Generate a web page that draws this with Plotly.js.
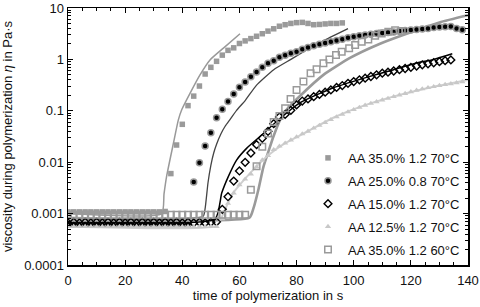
<!DOCTYPE html>
<html>
<head>
<meta charset="utf-8">
<script src="https://cdn.plot.ly/plotly-3.0.1.min.js"></script>
<style>html,body{margin:0;padding:0;background:#fff;}#chart{width:480px;height:307px;}</style>
</head>
<body>
<div id="chart"></div>
<script>
// ---- series names ----
const seriesNames = ["AA 35.0% 1.2 70°C", "AA 25.0% 0.8 70°C", "AA 15.0% 1.2 70°C", "AA 12.5% 1.2 70°C", "AA 35.0% 1.2 60°C"];

// ---- measured data (time in s, viscosity in Pa·s) ----
const s1Time = [0,2,4,6,8,10,12,14,16,18,20,22,24,26,28,30,32,34,36,38,40,42,44,46,48,50,52,54,56,58,60,62,64,66,68,70,72,74,76,78,80,82,84,86,88,90,92,94,96];
const s1Visc = [0.00108,0.00108,0.00108,0.00108,0.00108,0.00108,0.00108,0.00108,0.00108,0.00108,0.00108,0.00108,0.00108,0.00108,0.00108,0.00108,0.00108,0.0011,
  0.0060,0.0216,0.0546,0.126,0.193,0.303,0.520,0.701,0.918,1.21,1.50,1.68,2.04,2.29,2.54,2.82,3.16,3.55,3.94,4.42,4.73,5.01,5.19,5.25,5.01,4.73,4.79,4.90,5.01,5.01,5.13];

const s2Time = [0,2,4,6,8,10,12,14,16,18,20,22,24,26,28,30,32,34,36,38,40,42,44,46,48,50,52,54,56,58,60,62,64,66,68,70,72,74,76,78,80,82,84,86,88,90,92,94,96,98,100,102,104,106,108,110,112,114,116,118,120,122,124,126,128,130,132,134,136,138];
const s2Visc = [0.00063,0.00063,0.00063,0.00063,0.00063,0.00063,0.00063,0.00063,0.00063,0.00063,0.00063,0.00063,0.00063,0.00063,0.00063,0.00063,0.00063,0.00063,0.00063,0.00063,0.00063,0.00063,
  0.0041,0.0098,0.0207,0.0375,0.0735,0.107,0.151,0.212,0.286,0.363,
  0.461,0.569,0.701,0.839,0.944,1.10,1.20,1.32,1.41,1.58,
  1.70,1.84,1.97,2.09,2.21,2.34,2.48,2.63,2.75,2.88,
  2.99,3.09,3.20,3.27,3.35,3.43,3.55,3.63,3.72,3.80,
  3.89,3.98,4.17,4.27,4.32,4.37,3.98,3.76];

const s3Time = [0,2,4,6,8,10,12,14,16,18,20,22,24,26,28,30,32,34,36,38,40,42,44,46,48,50,52,54,56,58,60,62,64,66,68,70,72,74,76,78,80,82,84,86,88,90,92,94,96,98,100,102,104,106,108,110,112,114,116,118,120,122,124,126,128,130,132,134];
const s3Visc = [0.00066,0.00068,0.00066,0.00068,0.00066,0.00068,0.00066,0.00068,0.00066,0.00068,0.00066,0.00068,0.00066,0.00068,0.00066,0.00068,0.00066,0.00068,0.00066,0.00068,0.00066,0.00068,0.00066,0.00068,0.00066,0.00068,0.00069,
  0.00121,0.00213,0.0043,0.00675,0.00995,0.0151,0.0219,0.0292,0.0398,0.0562,
  0.0759,0.085,0.102,0.13,0.155,0.17,0.188,0.208,0.23,0.255,
  0.285,0.31,0.342,0.37,0.40,0.432,0.465,0.50,0.54,0.565,
  0.595,0.63,0.665,0.70,0.741,0.785,0.822,0.861,0.902,0.944,0.977];

const s4Time = [0,2,4,6,8,10,12,14,16,18,20,22,24,26,28,30,32,34,36,38,40,42,44,46,48,50,52,54,56,58,60,62,64,66,68,70,72,74,76,78,80,82,84,86,88,90,92,94,96,98,100,102,104,106,108,110,112,114,116,118,120,122,124,126,128,130,132,134,136,138];
const s4Visc = [0.00056,0.00056,0.00056,0.00056,0.00056,0.00056,0.00056,0.00056,0.00056,0.00056,0.00056,0.00056,0.00056,0.00056,0.00056,0.00056,0.00056,0.00056,0.00056,0.00056,0.00056,0.00056,0.00056,0.00056,0.00056,0.00056,0.00056,
  0.00079,0.00158,0.00251,0.00363,0.00468,0.00589,0.00813,0.011,0.0135,0.0175,
  0.0205,0.0235,0.027,0.031,0.0355,0.040,0.046,0.052,0.059,0.067,
  0.076,0.085,0.095,0.105,0.116,0.128,0.139,0.150,0.162,0.174,
  0.188,0.202,0.216,0.234,0.251,0.266,0.282,0.295,0.309,0.324,
  0.335,0.351,0.367];

const s5Time = [0,2,4,6,8,10,12,14,16,18,20,22,24,26,28,30,32,34,36,38,40,42,44,46,48,50,52,54,56,58,60,62,
  64,66,68,70,72,74,76,77.9,80,82.4,84.9,87,89.4,91.5,93.8,95.8,98.4,100.5,102.8,105.1,107.5,109.8,112.1,114.5,116.8];
const s5Visc = [0.00095,0.00095,0.00095,0.00095,0.00095,0.00095,0.00095,0.00095,0.00095,0.00095,0.00095,0.00095,0.00095,0.00095,0.00095,0.00095,0.00095,0.00095,0.00095,0.00095,0.00095,0.00095,0.00095,0.00095,0.00095,0.00095,0.00095,0.00095,0.00095,0.00095,0.00095,0.00095,
  0.0029,0.0083,0.020,0.0363,0.0603,0.0794,0.112,0.17,0.254,0.37,0.537,0.646,0.84,1.0,1.22,1.41,1.64,1.9,2.21,2.45,2.9,3.2,3.47,3.7,3.55];

// ---- model curves ----
const f1Time = [0,32.8,33.6,34.5,36.9,38.6,39.8,42.7,46.2,49.7,54.4,60.2];
const f1Visc = [0.001,0.001,0.0024,0.00525,0.0234,0.066,0.105,0.219,0.50,0.977,1.66,3.16];
const f2Time = [0,47.3,48,49,50,51,52,53.5,55,56.7,59,62,66,72,78,84,90,98];
const f2Visc = [0.0008,0.00089,0.00126,0.00398,0.0087,0.0151,0.0224,0.0355,0.0501,0.0676,0.102,0.158,0.316,0.631,1.0,1.58,2.4,3.98];
const f3Time = [0,51.5,53.8,56.1,59,62.5,67.2,74.2,81,92,104.5,114,122,128,134.5];
const f3Visc = [0.00071,0.00079,0.00251,0.00525,0.011,0.0186,0.0316,0.0708,0.141,0.269,0.447,0.631,0.851,1.0,1.29];
const f4Time = [0,52,54,56,58,62,66,70,76,84,93,104,116,128,140];
const f4Visc = [0.00056,0.00058,0.0009,0.0016,0.0026,0.0048,0.0083,0.0135,0.0234,0.040,0.0741,0.129,0.204,0.295,0.398];
const f5Time = [0,63.5,64.9,66.6,68.4,70.1,71.9,74.2,76.5,81,89.4,98.7,109,118.5,130,140];
const f5Visc = [0.00083,0.00083,0.00126,0.00288,0.00813,0.0158,0.0316,0.0661,0.105,0.19,0.50,1.07,2.0,3.16,5.25,7.24];

// ---- axis ticks ----
const yTickVals = [0.0001,0.001,0.01,0.1,1,10];
const yTickText = ["0.0001","0.001","0.01","0.1","1","10"];

const font = {family: "Liberation Sans, Arial, sans-serif", size: 13, color: "#111"};

function line(x, y, color, width) {
  return {x: x, y: y, type: "scatter", mode: "lines", line: {color: color, width: width, shape: "spline", smoothing: 0.5}, showlegend: false, hoverinfo: "skip"};
}
function pts(x, y, name, marker, g) {
  return {x: x, y: y, type: "scatter", mode: "markers", name: name, marker: marker, legendgroup: g};
}

const traces = [
  line(f5Time, f5Visc, "#9a9a9a", 2.6),
  line(f4Time, f4Visc, "#cfcfcf", 2),
  line(f1Time, f1Visc, "#999999", 1.5),
  line(f2Time, f2Visc, "#444444", 1.3),
  line(f3Time, f3Visc, "#000000", 1.5),
  pts(s1Time, s1Visc, seriesNames[0], {symbol: "square", size: 5.5, color: "#9a9a9a"}, "a"),
  pts(s2Time, s2Visc, seriesNames[1], {symbol: "circle", size: 6, color: "#000", line: {color: "#9a9a9a", width: 1.5}}, "b"),
  pts(s3Time, s3Visc, seriesNames[2], {symbol: "diamond-open", size: 6, color: "#000", line: {width: 1.4}}, "c"),
  pts(s4Time, s4Visc, seriesNames[3], {symbol: "triangle-up", size: 5.5, color: "#c8c8c8"}, "d"),
  pts(s5Time, s5Visc, seriesNames[4], {symbol: "square-open", size: 6.5, color: "#9a9a9a", line: {width: 1.5}}, "e")
];

const minorY = [];
for (let e = -4; e < 1; e++) { for (let k = 2; k <= 9; k++) { minorY.push(k * Math.pow(10, e)); } }

const layout = {
  width: 480, height: 307,
  margin: {l: 68, r: 12, t: 8, b: 42},
  paper_bgcolor: "#fff", plot_bgcolor: "#fff",
  font: font,
  showlegend: true,
  legend: {x: 0.6, y: 0.475, xanchor: "left", yanchor: "top", bgcolor: "rgba(0,0,0,0)", borderwidth: 0,
           font: font, traceorder: "grouped", tracegroupgap: 3},
  xaxis: {
    range: [0, 140], dtick: 20, tick0: 0,
    showline: true, linecolor: "#000", linewidth: 1.5, mirror: "allticks",
    ticks: "inside", ticklen: 5, tickwidth: 1.2, tickcolor: "#000",
    showgrid: false, zeroline: false,
    minor: {dtick: 5, ticks: "inside", ticklen: 3, tickwidth: 1, tickcolor: "#000", showgrid: false},
    tickfont: font, ticklabelstandoff: 3,
    title: {text: "time of polymerization in s", font: font, standoff: 4}
  },
  yaxis: {
    type: "log", range: [-4, 1],
    tickmode: "array", tickvals: yTickVals, ticktext: yTickText,
    showline: true, linecolor: "#000", linewidth: 1.5, mirror: "allticks",
    ticks: "inside", ticklen: 5, tickwidth: 1.2, tickcolor: "#000",
    showgrid: false, zeroline: false,
    minor: {tickmode: "array", tickvals: minorY, ticks: "inside", ticklen: 3, tickwidth: 1, tickcolor: "#000", showgrid: false},
    tickfont: font, ticklabelstandoff: 0,
    title: {text: "viscosity during polymerization <i>η</i> in Pa·s", font: font, standoff: 10}
  }
};

Plotly.newPlot("chart", traces, layout, {staticPlot: true, displayModeBar: false});
</script>
</body>
</html>
